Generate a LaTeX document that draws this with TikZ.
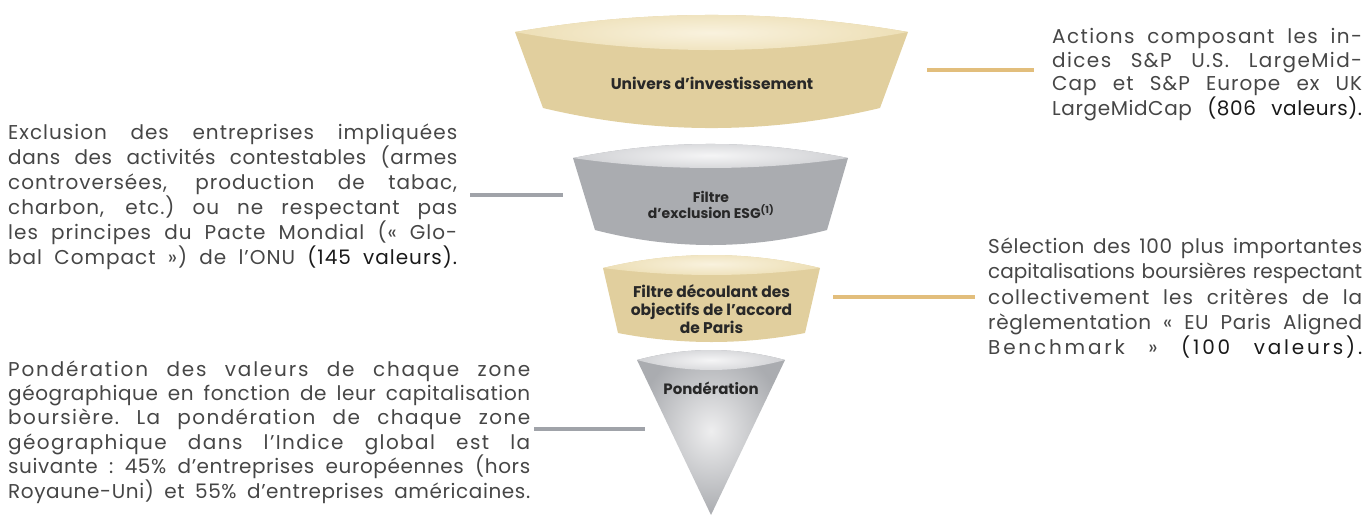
\documentclass[tikz,border=0pt]{standalone}
\usepackage{fontspec}
\setmainfont{Poppins}
\definecolor{txt}{RGB}{70,70,70}
\definecolor{valc}{RGB}{25,25,25}
\definecolor{lbl}{RGB}{40,40,40}
\definecolor{tanD}{RGB}{225,207,158}
\definecolor{tanM}{RGB}{238,227,195}
\definecolor{creamL}{RGB}{249,242,222}
\definecolor{creamD}{RGB}{237,223,182}
\definecolor{grayD}{RGB}{170,172,176}
\definecolor{grayM}{RGB}{238,238,239}
\definecolor{faceL}{RGB}{245,245,246}
\definecolor{faceD}{RGB}{208,209,212}
\definecolor{tanln}{RGB}{226,190,124}
\definecolor{grayln}{RGB}{160,163,169}
% one justified line of given width: letter spacing, then word spaces stretch to fill it
\newcommand{\jls}[3]{\hbox to #1{\addfontfeature{LetterSpace=#2}\spaceskip=0.26em plus 1fil minus 0.05em\xspaceskip=\spaceskip\relax #3}}
\newcommand{\jl}[2]{\jls{#1}{3}{#2}}
\newcommand{\val}[1]{{\color{valc}#1}}
\tikzset{
  desc/.style={inner sep=0pt, anchor=base west, text=txt},
  flabel/.style={inner sep=0pt, align=center, text=lbl, font=\bfseries\fontsize{15}{18}\selectfont},
  tanline/.style={draw=tanln, line width=4pt},
  grayline/.style={draw=grayln, line width=4pt},
  tanbody/.style={left color=tanD, middle color=tanM, right color=tanD},
  tanface/.style={inner color=creamL, outer color=creamD},
  graybody/.style={left color=grayD, middle color=grayM, right color=grayD},
  grayface/.style={inner color=faceL, outer color=faceD},
  conebody/.style={inner color=grayM, outer color=grayD}
}
\begin{document}
\begin{tikzpicture}[x=1pt,y=-1pt]
\useasboundingbox (0,0) rectangle (1365,515);

% ---- funnel 1 : Univers
\path[tanbody] (515,32) .. controls (646,9.3) and (777,9.3) .. (908,32)
  -- (880,108) .. controls (768,134.7) and (655,134.7) .. (543,108) -- cycle;
\path[tanface] (515,32) .. controls (646,9.3) and (777,9.3) .. (908,32)
  .. controls (777,56) and (646,56) .. (515,32) -- cycle;
\node[flabel, font=\bfseries\fontsize{15.5}{18}\selectfont] (f1) at (712,83) {Univers d’investissement};

% ---- funnel 2 : ESG
\path[graybody] (573,158) .. controls (664.7,139.3) and (756.3,139.3) .. (848,158)
  -- (827,230) .. controls (749.7,250) and (672.3,250) .. (595,230) -- cycle;
\path[grayface] (573,158) .. controls (664.7,139.3) and (756.3,139.3) .. (848,158)
  .. controls (756.3,171.3) and (664.7,171.3) .. (573,158) -- cycle;
\node[flabel, font=\bfseries\fontsize{14}{16}\selectfont] (f2) at (711,205) {Filtre\\d’exclusion ESG\textsuperscript{(1)}};

% ---- funnel 3 : Paris
\path[tanbody] (603,268) .. controls (675.3,250.7) and (747.7,250.7) .. (820,268)
  -- (805,333) .. controls (742.7,345) and (680.3,345) .. (618,333) -- cycle;
\path[tanface] (603,268) .. controls (675.3,250.7) and (747.7,250.7) .. (820,268)
  .. controls (747.7,277.3) and (675.3,277.3) .. (603,268) -- cycle;
\node[flabel, font=\bfseries\fontsize{15.5}{18.3}\selectfont] (f3) at (711.5,309) {Filtre découlant des\\objectifs de l’accord\\de Paris};

% ---- funnel 4 : cone
\path[conebody] (637,360) .. controls (686.3,346.7) and (735.7,346.7) .. (785,360)
  -- (711,515) -- cycle;
\path[grayface] (637,360) .. controls (686.3,346.7) and (735.7,346.7) .. (785,360)
  .. controls (735.7,373.3) and (686.3,373.3) .. (637,360) -- cycle;
\node[flabel] (f4) at (711,388) {Pondération};

% ---- texts
\node[desc, text width=310pt, font=\fontsize{20}{23.7}\selectfont] (t1) at (1052,43.5) {%
\jls{310pt}{7}{Actions composant les in-}
\jls{310pt}{7}{dices S\&P U.S. LargeMid-}
\jls{310pt}{5}{Cap et S\&P Europe ex UK}
\jl{310pt}{LargeMidCap \val{(806 valeurs).}}};

\node[desc, text width=449pt, font=\fontsize{20}{25}\selectfont] (t2) at (8,139.5) {%
\jls{449pt}{5}{Exclusion des entreprises impliquées}
\jl{449pt}{dans des activités contestables (armes}
\jls{449pt}{5}{controversées, production de tabac,}
\jls{449pt}{5}{charbon, etc.) ou ne respectant pas}
\jls{449pt}{5}{les principes du Pacte Mondial (« Glo-}
\jls{449pt}{5}{bal Compact ») de l’ONU \val{(145 valeurs).}}};

\node[desc, text width=374pt, font=\fontsize{20}{25.3}\selectfont] (t3) at (988,253.5) {%
\jl{374pt}{Sélection des 100 plus importantes}
\jls{374pt}{0}{capitalisations boursières respectant}
\jls{374pt}{5}{collectivement les critères de la}
\jl{374pt}{règlementation « EU Paris Aligned}
\jls{374pt}{14}{Benchmark » \val{(100 valeurs).}}};

\node[desc, text width=522pt, font=\fontsize{20}{24.4}\selectfont] (t4) at (8,376) {%
\jls{522pt}{9}{Pondération des valeurs de chaque zone}
\jl{522pt}{géographique en fonction de leur capitalisation}
\jls{522pt}{7}{boursière. La pondération de chaque zone}
\jls{522pt}{7}{géographique dans l’Indice global est la}
\jl{522pt}{suivante : 45\% d’entreprises européennes (hors}
\jl{522pt}{Royaune-Uni) et 55\% d’entreprises américaines.}};

% ---- connectors
\coordinate (c1a) at (927,70);  \coordinate (c1b) at (1034,70);
\coordinate (c2a) at (470,195); \coordinate (c2b) at (563,195);
\coordinate (c3a) at (833,297); \coordinate (c3b) at (975,297);
\coordinate (c4a) at (534,429); \coordinate (c4b) at (645,429);
\draw[tanline] (c1a) -- (c1b);
\draw[grayline] (c2a) -- (c2b);
\draw[tanline] (c3a) -- (c3b);
\draw[grayline] (c4a) -- (c4b);
\end{tikzpicture}
\end{document}
